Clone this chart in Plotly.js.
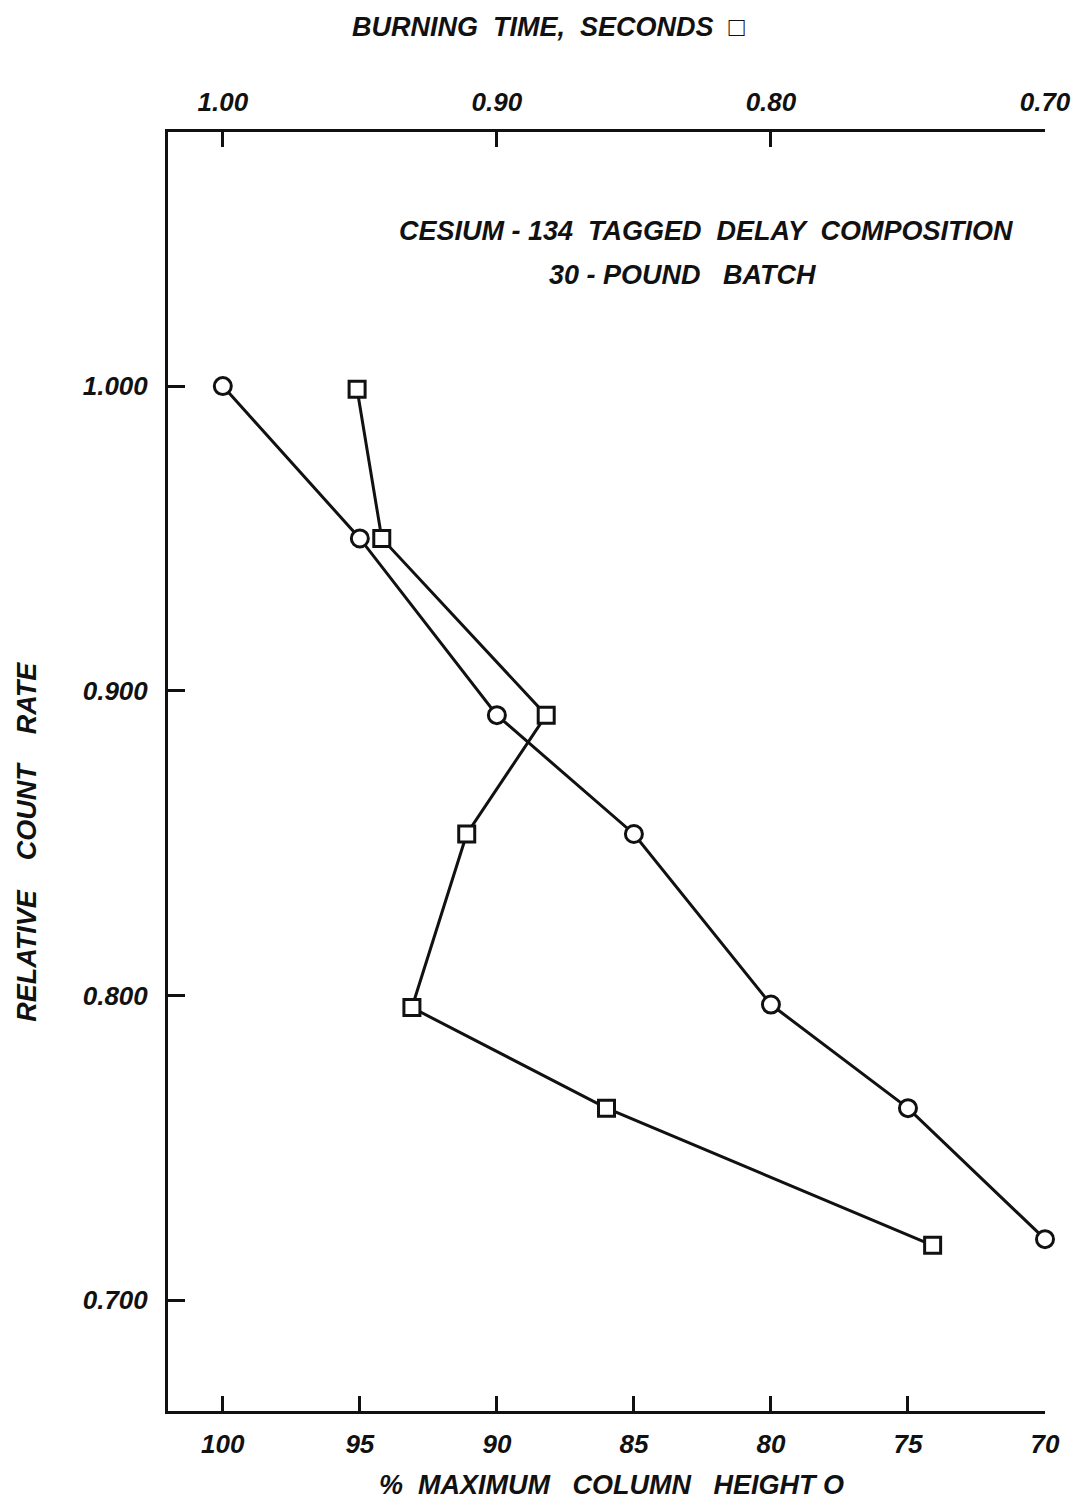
<!DOCTYPE html>
<html>
<head>
<meta charset="utf-8">
<script src="https://cdn.plot.ly/plotly-3.0.1.min.js"></script>
<style>html,body{margin:0;padding:0;background:#fff;}#chart{width:1077px;height:1501px;}</style>
</head>
<body>
<div id="chart"></div>
<script>
// % maximum column height (bottom axis) vs relative count rate — circles
const heightPct = [100, 95, 90, 85, 80, 75, 70];
const countRateHeight = [1.000, 0.950, 0.892, 0.853, 0.797, 0.763, 0.720];
// burning time, seconds (top axis) vs relative count rate — squares
const burnTime = [0.951, 0.942, 0.882, 0.911, 0.931, 0.860, 0.741];
const countRateTime = [0.999, 0.950, 0.892, 0.853, 0.796, 0.763, 0.718];

const bottomTicks = [100, 95, 90, 85, 80, 75, 70];
const topTicks = [1.00, 0.90, 0.80, 0.70];
const yTicks = [0.700, 0.800, 0.900, 1.000];

const FONT = 'Liberation Sans, Arial, sans-serif';
const tickFont = {family: FONT, size: 26, color: '#111', style: 'italic', weight: 'bold'};
const labFont = {family: FONT, size: 27, color: '#111', style: 'italic', weight: 'bold'};

const traces = [
  {
    x: heightPct, y: countRateHeight, xaxis: 'x', yaxis: 'y',
    mode: 'lines+markers', type: 'scatter', cliponaxis: false,
    line: {color: '#111', width: 3},
    marker: {symbol: 'circle', size: 17, color: '#fff', line: {color: '#111', width: 3}},
    hoverinfo: 'skip'
  },
  {
    x: burnTime, y: countRateTime, xaxis: 'x2', yaxis: 'y',
    mode: 'lines+markers', type: 'scatter', cliponaxis: false,
    line: {color: '#111', width: 3},
    marker: {symbol: 'square', size: 16, color: '#fff', line: {color: '#111', width: 3}},
    hoverinfo: 'skip'
  }
];

const layout = {
  width: 1077, height: 1501,
  margin: {l: 168, r: 32, t: 132, b: 90, pad: 0},
  paper_bgcolor: '#fff', plot_bgcolor: '#fff',
  showlegend: false,
  xaxis: {
    range: [102, 70], tickvals: bottomTicks, ticktext: bottomTicks.map(String),
    ticks: 'inside', ticklen: 15, tickwidth: 3, tickcolor: '#111',
    showline: true, linecolor: '#111', linewidth: 3, mirror: false,
    showgrid: false, zeroline: false, tickfont: tickFont, ticklabelstandoff: 8
  },
  xaxis2: {
    range: [1.02, 0.70], overlaying: 'x', side: 'top', anchor: 'y',
    tickvals: topTicks, ticktext: topTicks.map(v => v.toFixed(2)),
    ticks: 'inside', ticklen: 15, tickwidth: 3, tickcolor: '#111',
    showline: true, linecolor: '#111', linewidth: 3,
    showgrid: false, zeroline: false, tickfont: tickFont, ticklabelstandoff: 8
  },
  yaxis: {
    range: [0.6636, 1.0834], tickvals: yTicks, ticktext: yTicks.map(v => v.toFixed(3)),
    ticks: 'inside', ticklen: 17, tickwidth: 3, tickcolor: '#111',
    showline: true, linecolor: '#111', linewidth: 3, mirror: false,
    showgrid: false, zeroline: false, tickfont: tickFont, ticklabelstandoff: 12
  },
  annotations: [
    {text: 'BURNING  TIME,  SECONDS  \u25A1', xref: 'paper', yref: 'paper', x: 0.435, y: 1, yshift: 105,
     xanchor: 'center', yanchor: 'middle', showarrow: false, font: labFont},
    {text: 'CESIUM - 134  TAGGED  DELAY  COMPOSITION', xref: 'paper', yref: 'paper', x: 0.614, y: 1, yshift: -99,
     xanchor: 'center', yanchor: 'middle', showarrow: false, font: labFont},
    {text: '30 - POUND   BATCH', xref: 'paper', yref: 'paper', x: 0.587, y: 1, yshift: -143,
     xanchor: 'center', yanchor: 'middle', showarrow: false, font: labFont},
    {text: '%  MAXIMUM   COLUMN   HEIGHT O', xref: 'paper', yref: 'paper', x: 0.506, y: 0, yshift: -74,
     xanchor: 'center', yanchor: 'middle', showarrow: false, font: labFont},
    {text: 'RELATIVE    COUNT    RATE', xref: 'paper', yref: 'paper', x: 0, xshift: -141, y: 0.445,
     xanchor: 'center', yanchor: 'middle', showarrow: false, textangle: -90, font: labFont}
  ]
};

Plotly.newPlot('chart', traces, layout, {staticPlot: true, displayModeBar: false});
</script>
</body>
</html>
